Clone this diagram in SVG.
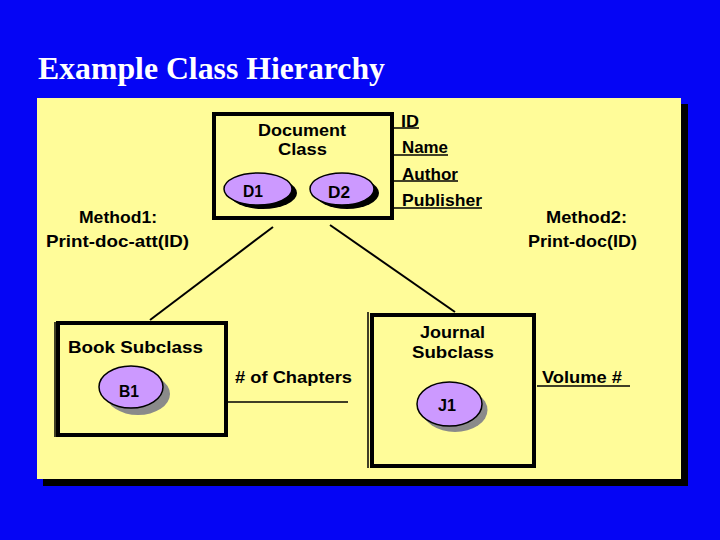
<svg xmlns="http://www.w3.org/2000/svg" width="720" height="540" viewBox="0 0 720 540">
<defs>
<style>
.t{font-family:"Liberation Sans",Arial,sans-serif;font-size:17px;font-weight:bold;fill:#000}
.box{fill:none;stroke:#000;stroke-width:4}
.ov{fill:#CC99FF;stroke:#000;stroke-width:1.5}
.sh{fill:#000}
.gs{fill:#8a8a8a}
.ln{stroke:#000;stroke-width:1.5;fill:none}
.cn{stroke:#000;stroke-width:2;fill:none}
</style>
</defs>
<rect width="720" height="540" fill="#0505F5"/>
<text x="38" y="79" font-family="Liberation Serif,'Times New Roman',serif" font-size="32" font-weight="bold" fill="#fff" textLength="347" lengthAdjust="spacingAndGlyphs">Example Class Hierarchy</text>
<g id="panel">
<rect x="43" y="104" width="645" height="382" fill="#000"/>
<rect x="37" y="98" width="644" height="381" fill="#FFFC99"/>
</g>
<g id="connectors">
<line class="cn" x1="273" y1="227" x2="150" y2="320"/>
<line class="cn" x1="330" y1="225" x2="455" y2="312"/>
</g>
<g id="document">
<rect class="box" x="214" y="114" width="178" height="104"/>
<text class="t" x="258" y="136" textLength="88" lengthAdjust="spacingAndGlyphs">Document</text>
<text class="t" x="278" y="155" textLength="49" lengthAdjust="spacingAndGlyphs">Class</text>
<ellipse class="sh" cx="263" cy="193" rx="34" ry="16"/>
<ellipse class="ov" cx="258" cy="189" rx="34" ry="16"/>
<text class="t" x="243" y="197" textLength="20" lengthAdjust="spacingAndGlyphs">D1</text>
<ellipse class="sh" cx="347" cy="193" rx="32" ry="16"/>
<ellipse class="ov" cx="342" cy="189" rx="32" ry="16"/>
<text class="t" x="328" y="198" textLength="22" lengthAdjust="spacingAndGlyphs">D2</text>
</g>
<g id="attributes">
<text class="t" x="401" y="127" textLength="18" lengthAdjust="spacingAndGlyphs">ID</text>
<line class="ln" x1="393" y1="128" x2="419" y2="128"/>
<text class="t" x="402" y="153" textLength="46" lengthAdjust="spacingAndGlyphs">Name</text>
<line class="ln" x1="393" y1="155" x2="448" y2="155"/>
<text class="t" x="402" y="180" textLength="56" lengthAdjust="spacingAndGlyphs">Author</text>
<line class="ln" x1="393" y1="181" x2="458" y2="181"/>
<text class="t" x="402" y="206" textLength="80" lengthAdjust="spacingAndGlyphs">Publisher</text>
<line class="ln" x1="393" y1="208" x2="482" y2="208"/>
</g>
<g id="method1">
<text class="t" x="79" y="223" textLength="78" lengthAdjust="spacingAndGlyphs">Method1:</text>
<text class="t" x="46" y="247" textLength="143" lengthAdjust="spacingAndGlyphs">Print-doc-att(ID)</text>
</g>
<g id="method2">
<text class="t" x="546" y="223" textLength="81" lengthAdjust="spacingAndGlyphs">Method2:</text>
<text class="t" x="528" y="247" textLength="109" lengthAdjust="spacingAndGlyphs">Print-doc(ID)</text>
</g>
<g id="book">
<line class="ln" x1="55" y1="322" x2="55" y2="437"/>
<rect class="box" x="58" y="323" width="168" height="112"/>
<text class="t" x="68" y="353" textLength="135" lengthAdjust="spacingAndGlyphs">Book Subclass</text>
<ellipse class="gs" cx="138" cy="394" rx="32" ry="21"/>
<ellipse class="ov" cx="131" cy="387" rx="32" ry="21"/>
<text class="t" x="119" y="397" textLength="20" lengthAdjust="spacingAndGlyphs">B1</text>
<text class="t" x="235" y="383" textLength="117" lengthAdjust="spacingAndGlyphs"># of Chapters</text>
<line class="ln" x1="228" y1="402" x2="348" y2="402"/>
</g>
<g id="journal">
<line class="ln" x1="368" y1="312" x2="368" y2="468"/>
<rect class="box" x="372" y="315" width="162" height="151"/>
<text class="t" x="420" y="338" textLength="65" lengthAdjust="spacingAndGlyphs">Journal</text>
<text class="t" x="412" y="358" textLength="82" lengthAdjust="spacingAndGlyphs">Subclass</text>
<ellipse class="gs" cx="455" cy="410" rx="32.5" ry="22"/>
<ellipse class="ov" cx="449.5" cy="404" rx="32.5" ry="22"/>
<text class="t" x="438" y="411" textLength="18" lengthAdjust="spacingAndGlyphs">J1</text>
<text class="t" x="542" y="383" textLength="80" lengthAdjust="spacingAndGlyphs">Volume #</text>
<line class="ln" x1="537" y1="386" x2="630" y2="386"/>
</g>
</svg>
